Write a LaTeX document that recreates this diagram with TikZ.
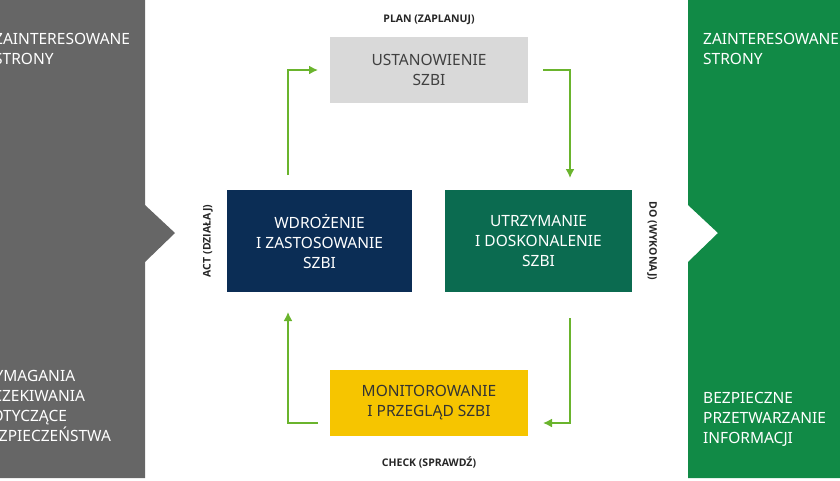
\documentclass[tikz,border=0pt]{standalone}
\usepackage{fontspec}
\setmainfont{Noto Sans}
\newfontfamily\lblfont{Open Sans}
\begin{document}
\begin{tikzpicture}[x=1pt,y=-1pt,
  box/.style={minimum width=#1,align=center,font=\fontsize{15.5}{20}\selectfont,inner sep=0pt},
  lbl/.style={font=\lblfont\bfseries\fontsize{10.5}{12}\selectfont,text=black!85},
  side/.style={anchor=north west,align=left,text=white,font=\fontsize{15.5}{20}\selectfont,inner sep=0pt},
  arr/.style={draw=arrowgreen,line width=1.6pt,-{Latex[length=9pt,width=9pt]}}]
\usetikzlibrary{arrows.meta}
\definecolor{panelgray}{HTML}{666666}
\definecolor{panelgreen}{HTML}{118A46}
\definecolor{navy}{HTML}{0B2D55}
\definecolor{dkgreen}{HTML}{0B6B50}
\definecolor{ltgray}{HTML}{D9D9D9}
\definecolor{yel}{HTML}{F6C500}
\definecolor{arrowgreen}{HTML}{6AB42D}
\useasboundingbox (0,0) rectangle (840,480);
\clip (0,0) rectangle (840,480);
% panels
\fill[panelgray] (-30,0) -- (145,0) -- (145,205) -- (175,233) -- (145,262) -- (145,478) -- (-30,478) -- cycle;
\fill[panelgreen] (688,0) -- (860,0) -- (860,478) -- (688,478) -- (688,262) -- (718,233) -- (688,205) -- cycle;
\node[side] (lt) at (-6,33) {ZAINTERESOWANE\\STRONY};
\node[side] (lb) at (-20,370) {WYMAGANIA\\OCZEKIWANIA\\DOTYCZĄCE\\BEZPIECZEŃSTWA};
\node[side] (rt) at (703,33) {ZAINTERESOWANE\\STRONY};
\node[side] (rb) at (703,392) {BEZPIECZNE\\PRZETWARZANIE\\INFORMACJI};
% boxes
\node[box=198pt,minimum height=66pt,fill=ltgray,text=black!75] (plan) at (429,70) {USTANOWIENIE\\SZBI};
\node[box=185pt,minimum height=102pt,fill=navy,text=white] (act) at (319.5,241) {WDROŻENIE\\I ZASTOSOWANIE\\SZBI};
\node[box=187pt,minimum height=102pt,fill=dkgreen,text=white] (do) at (538.5,241) {UTRZYMANIE\\I DOSKONALENIE\\SZBI};
\node[box=198pt,minimum height=66pt,fill=yel,text=black!80] (check) at (429,403) {MONITOROWANIE\\I PRZEGLĄD SZBI};
% labels
\node[lbl] (lp) at (429,20) {PLAN (ZAPLANUJ)};
\node[lbl] (lc) at (429,462) {CHECK (SPRAWDŹ)};
\node[lbl,rotate=90] (la) at (208,241) {ACT (DZIAŁAJ)};
\node[lbl,rotate=-90] (ld) at (652,241) {DO (WYKONAJ)};
% arrows
\coordinate (a1) at (288,175); \coordinate (a2) at (318,70);
\draw[arr] (a1) |- (a2);
\coordinate (b1) at (543,70); \coordinate (b2) at (570,178);
\draw[arr] (b1) -| (b2);
\coordinate (c1) at (570,318); \coordinate (c2) at (543,423);
\draw[arr] (c1) |- (c2);
\coordinate (d1) at (318,423); \coordinate (d2) at (288,312);
\draw[arr] (d1) -| (d2);
\end{tikzpicture}
\end{document}
